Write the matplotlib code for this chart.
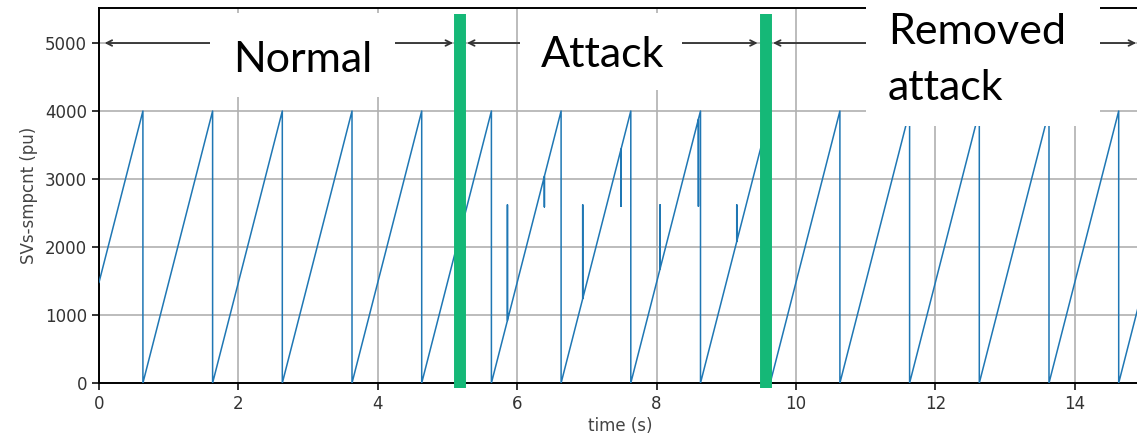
import matplotlib.pyplot as plt
from matplotlib.patches import Rectangle

# sample counter wrap instants (s): value jumps 4000 -> 0
wrap_times = [0.63, 1.63, 2.63, 3.63, 4.63, 5.63, 6.63, 7.63, 8.63, 9.63,
              10.63, 11.63, 12.63, 13.63, 14.63]
start_value = 1480
end_time = 14.95
end_value = 1280
peak_value = 4000

# injected packets during the attack: time, counter before, injected counter
spike_times = [5.86, 6.39, 6.94, 7.49, 8.05, 8.60, 9.15]
spike_base = [920, 3040, 1240, 3440, 1680, 3880, 2080]
spike_peak = [2620, 2590, 2620, 2600, 2620, 2600, 2620]

# regions
boundaries = [5.18, 9.57]
region_labels = ["Normal", "Attack", "Removed\nattack"]

xticks = [0, 2, 4, 6, 8, 10, 12, 14]
yticks = [0, 1000, 2000, 3000, 4000, 5000]

# build the polyline
t = [0.0]
v = [start_value]
k = 0
for w in wrap_times:
    while k < len(spike_times) and spike_times[k] < w:
        t += [spike_times[k], spike_times[k], spike_times[k]]
        v += [spike_base[k], spike_peak[k], spike_base[k]]
        k += 1
    t += [w, w]
    v += [peak_value, 0]
t.append(end_time)
v.append(end_value)

fig = plt.figure(figsize=(11.37, 4.36), dpi=100)
ax = fig.add_axes([99 / 1137, 53 / 436, 1042 / 1137, 375 / 436])

ax.plot(t, v, color='#1f77b4', linewidth=1.1, zorder=3)
ax.set_xlim(0, end_time)
ax.set_ylim(0, 5515)
ax.set_xticks(xticks)
ax.set_yticks(yticks)
ax.grid(True, color='#b0b0b0', linewidth=1.2)
ax.tick_params(labelsize=12, colors='#333333', width=1.4, length=5)
for s in ax.spines.values():
    s.set_linewidth(1.4)
ax.set_xlabel("time (s)", fontsize=12, color='#444444', labelpad=3)
ax.set_ylabel("SVs-smpcnt (pu)", fontsize=12, color='#444444', labelpad=5)

# double arrows at y = 5000
arrow_spans = [(0.08, 5.08), (5.28, 9.45), (9.67, 14.88)]
for a, b in arrow_spans:
    ax.annotate("", xy=(a, 5000), xytext=(b, 5000),
                arrowprops=dict(arrowstyle='<->', color='#333333', lw=1.3,
                                shrinkA=0, shrinkB=0), zorder=4)

# white label boxes
boxes = [(1.59, 4205, 2.66, 1235), (6.04, 4310, 2.32, 1130), (11.0, 3780, 3.36, 1900)]
for x0, y0, w, h in boxes:
    ax.add_patch(Rectangle((x0, y0), w, h, facecolor='white', edgecolor='none',
                           zorder=6, clip_on=False))

txt = dict(fontsize=31, family='Lato', color='black', va='baseline', zorder=7)
ax.text(2.92, 4574, region_labels[0], ha='center', **txt)
ax.text(7.22, 4647, region_labels[1], ha='center', **txt)
line1, line2 = region_labels[2].split("\n")
ax.text(11.32, 4985, line1, ha='left', **txt)
ax.text(11.32, 4162, line2, ha='left', **txt)

# green region separators
for b in boundaries:
    ax.plot([b, b], [-74, 5426], color='#15b877', linewidth=8.6,
            solid_capstyle='butt', clip_on=False, zorder=8)

fig.savefig("out.png", dpi=100)
